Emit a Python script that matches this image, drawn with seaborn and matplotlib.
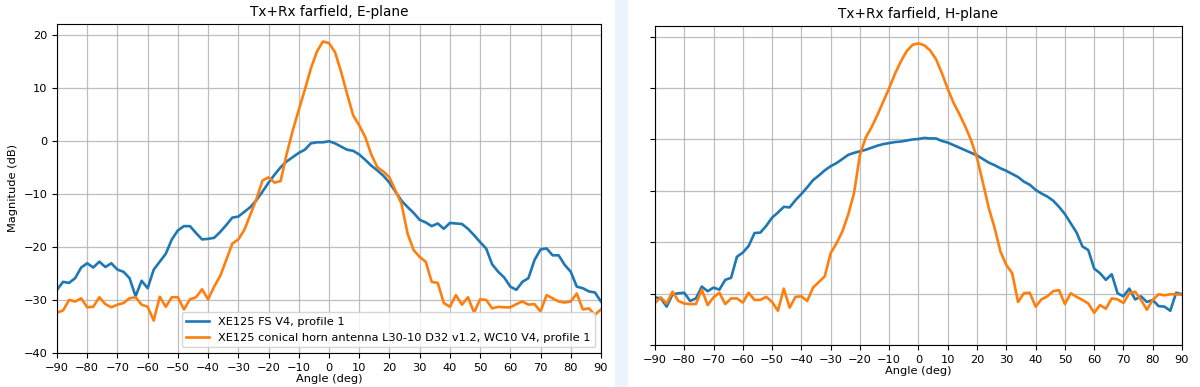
import numpy as np
import pandas as pd
import matplotlib
matplotlib.use('Agg')
import matplotlib.pyplot as plt
import seaborn as sns
from matplotlib.patches import Rectangle

angles = np.arange(-90, 91, 2)

e_fs = [-28.1, -26.6, -26.8, -25.9, -23.9, -23.1, -23.9, -22.8, -23.8, -23.1,
        -24.3, -24.7, -25.9, -29.3, -26.4, -27.8, -24.3, -22.8, -21.3, -18.6,
        -16.9, -16.1, -16.1, -17.4, -18.6, -18.5, -18.3, -17.2, -15.9, -14.5,
        -14.3, -13.4, -12.5, -11.2, -9.6, -7.9, -6.4, -5.0, -3.9, -3.1,
        -2.3, -1.7, -0.5, -0.3, -0.3, -0.1, -0.5, -1.1, -1.7, -1.9,
        -2.6, -3.6, -4.7, -5.6, -6.6, -7.9, -9.6, -11.3, -12.5, -13.6,
        -14.9, -15.4, -16.1, -15.6, -16.6, -15.5, -15.6, -15.7, -16.6, -17.8,
        -19.1, -20.3, -23.3, -24.7, -25.8, -27.5, -28.1, -26.6, -25.9, -22.5,
        -20.5, -20.3, -21.6, -21.6, -23.4, -24.7, -27.5, -27.8, -28.4, -28.6,
        -30.3]

e_horn = [-32.4, -32.0, -30.0, -30.3, -29.7, -31.4, -31.3, -29.5, -30.8, -31.4,
          -30.9, -30.6, -29.7, -29.5, -30.9, -31.3, -33.9, -29.4, -31.3, -29.5,
          -29.5, -31.8, -29.9, -29.5, -28.0, -29.9, -27.5, -25.5, -22.5, -19.4,
          -18.6, -16.8, -13.9, -11.0, -7.5, -6.9, -7.9, -7.6, -2.5, 1.9,
          5.8, 9.6, 13.6, 16.8, 18.7, 18.4, 16.7, 13.0, 8.8, 4.8,
          2.9, 0.7, -2.6, -5.0, -5.8, -6.9, -9.4, -11.9, -17.5, -20.6,
          -21.9, -22.8, -26.6, -26.8, -30.6, -31.3, -29.1, -30.9, -29.5, -32.4,
          -29.9, -30.0, -31.6, -31.3, -31.4, -31.4, -30.8, -30.3, -30.9, -30.8,
          -32.2, -29.1, -29.7, -30.3, -30.5, -30.3, -28.8, -31.8, -31.6, -32.8,
          -31.8]

h_fs = [-30.7, -30.9, -32.5, -30.1, -29.9, -29.8, -31.4, -30.9, -28.6, -29.5,
        -28.8, -29.2, -27.3, -26.9, -22.8, -22.0, -20.7, -18.2, -18.1, -16.8,
        -15.2, -14.2, -13.1, -13.2, -11.8, -10.6, -9.3, -7.9, -7.0, -6.0,
        -5.2, -4.6, -3.8, -3.0, -2.6, -2.3, -2.0, -1.6, -1.2, -0.9,
        -0.7, -0.5, -0.4, -0.2, 0.0, 0.1, 0.3, 0.2, 0.2, -0.3,
        -0.6, -1.1, -1.6, -2.1, -2.6, -3.1, -3.8, -4.5, -5.0, -5.6,
        -6.1, -6.7, -7.3, -8.2, -8.8, -9.8, -10.5, -11.1, -11.9, -13.1,
        -14.5, -16.3, -18.1, -20.8, -21.5, -25.1, -26.0, -27.3, -26.2, -29.9,
        -30.5, -29.0, -31.1, -30.5, -31.6, -31.2, -32.4, -32.5, -33.3, -29.8,
        -30.1]

h_horn = [-31.8, -30.7, -31.9, -29.6, -31.4, -31.9, -32.0, -32.0, -29.2, -32.2,
          -30.7, -29.8, -32.0, -30.9, -30.9, -31.7, -29.8, -31.2, -31.2, -30.6,
          -31.6, -33.3, -29.0, -32.7, -30.6, -30.5, -31.4, -28.8, -27.7, -26.6,
          -22.1, -20.2, -17.9, -14.6, -10.4, -3.0, 0.4, 2.4, 4.8, 7.4,
          10.0, 12.8, 15.2, 17.2, 18.4, 18.7, 18.3, 17.3, 15.6, 12.9,
          9.8, 7.1, 4.9, 2.5, -0.2, -3.6, -8.4, -13.3, -17.2, -21.8,
          -24.4, -26.0, -31.6, -29.9, -29.8, -32.5, -31.1, -30.5, -29.5, -29.3,
          -32.0, -29.9, -30.6, -31.2, -31.9, -33.7, -32.2, -32.9, -30.9, -31.1,
          -31.8, -29.9, -29.6, -31.2, -33.1, -31.2, -30.1, -30.3, -30.1, -30.1,
          -30.2]

label_fs = 'XE125 FS V4, profile 1'
label_horn = 'XE125 conical horn antenna L30-10 D32 v1.2, WC10 V4, profile 1'
xticks = np.arange(-90, 91, 10)

plt.rcParams['font.size'] = 8.2

fig = plt.figure(figsize=(12, 3.87), dpi=100)
ax1 = fig.add_axes([0.0475, 0.088, 0.4533, 0.850])
ax2 = fig.add_axes([0.5458, 0.108, 0.4392, 0.824], sharey=ax1)

# pale divider between the two panels
fig.patches.append(Rectangle((0.5125, 0), 0.011, 1, transform=fig.transFigure,
                             facecolor='#eaf5fb', edgecolor='none', zorder=0))

df_e = pd.DataFrame({'angle': angles, 'fs': e_fs, 'horn': e_horn})
df_h = pd.DataFrame({'angle': angles, 'fs': h_fs, 'horn': h_horn})

for ax, df, title in [(ax1, df_e, 'Tx+Rx farfield, E-plane'),
                      (ax2, df_h, 'Tx+Rx farfield, H-plane')]:
    sns.lineplot(data=df, x='angle', y='fs', ax=ax, color='C0', lw=1.9, label=label_fs)
    sns.lineplot(data=df, x='angle', y='horn', ax=ax, color='C1', lw=1.9, label=label_horn)
    ax.set_title(title)
    ax.set_xlabel('Angle (deg)', labelpad=1)
    ax.set_xlim(-90, 90)
    ax.set_xticks(xticks)
    ax.grid(True, color='#b0b0b0', lw=0.9, alpha=0.8)

ax1.set_ylim(-40, 22)
ax1.set_ylabel('Magnitude (dB)')
ax2.set_ylabel('')
ax2.tick_params(labelleft=False)
ax1.legend(loc='lower right')
ax2.get_legend().remove()

fig.savefig('out.png', dpi=100)
